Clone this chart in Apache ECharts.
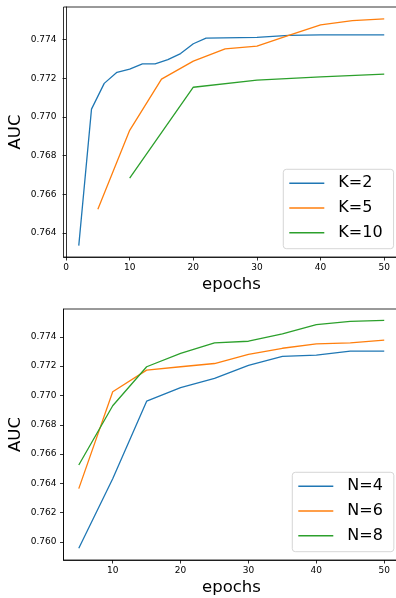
<!DOCTYPE html>
<html>
<head>
<meta charset="utf-8">
<script src="https://cdn.jsdelivr.net/npm/echarts@6/dist/echarts.min.js"></script>
<style>
  html, body { margin: 0; padding: 0; background: #fff; }
  #chart { width: 396px; height: 598px; }
</style>
</head>
<body>
<div id="chart"></div>
<script>
// top panel: K
const k2Epochs = [2, 4, 6, 8, 10, 12, 14, 16, 18, 20, 22, 30, 35, 40, 50]
const k2Auc = [0.76335, 0.77041, 0.77174, 0.77231, 0.77248, 0.77275, 0.77275, 0.77297, 0.77328, 0.77379, 0.77408, 0.77412, 0.77422, 0.77425, 0.77425]
const k5Epochs = [5, 10, 15, 20, 25, 30, 35, 40, 45, 50]
const k5Auc = [0.76523, 0.76931, 0.77196, 0.77289, 0.77352, 0.77367, 0.77422, 0.77477, 0.77499, 0.77508]
const k10Epochs = [10, 20, 30, 40, 50]
const k10Auc = [0.76684, 0.77154, 0.77191, 0.77208, 0.77222]

// bottom panel: N
const nEpochs = [5, 10, 15, 20, 25, 30, 35, 40, 45, 50]
const n4Auc = [0.75957, 0.76432, 0.76961, 0.77053, 0.77116, 0.77205, 0.77266, 0.77275, 0.77302, 0.77302]
const n6Auc = [0.76364, 0.77025, 0.77173, 0.77196, 0.77218, 0.77281, 0.77322, 0.77352, 0.77359, 0.77377]
const n8Auc = [0.76525, 0.76930, 0.77196, 0.77287, 0.77359, 0.77370, 0.77420, 0.77484, 0.77505, 0.77512]

// ticks
const topXTicks = [0, 10, 20, 30, 40, 50]
const topYTicks = [0.764, 0.766, 0.768, 0.770, 0.772, 0.774]
const botXTicks = [10, 20, 30, 40, 50]
const botYTicks = [0.760, 0.762, 0.764, 0.766, 0.768, 0.770, 0.772, 0.774]

const FONT = 'DejaVu Sans'
const colors = ['#1f77b4', '#ff7f0e', '#2ca02c']

const zip = (xs, ys) => xs.map((x, i) => [x, ys[i]])

function xAxisFor(gridIndex, min, max, ticks) {
    return {
        type: 'value',
        gridIndex,
        min, max,
        name: 'epochs',
        nameLocation: 'middle',
        nameGap: 19,
        nameMoveOverlap: false,
        nameTextStyle: { fontFamily: FONT, fontSize: 16.5, color: '#000' },
        axisLine: { show: true, lineStyle: { color: '#000', width: 0.8 } },
        axisTick: { show: true, length: 3.5, lineStyle: { color: '#000', width: 0.8 }, customValues: ticks },
        axisLabel: { fontFamily: FONT, fontSize: 9, color: '#000', margin: 6, customValues: ticks },
        splitLine: { show: false }
    }
}

function yAxisFor(gridIndex, min, max, ticks) {
    return {
        type: 'value',
        gridIndex,
        min, max,
        name: 'AUC',
        nameLocation: 'middle',
        nameGap: 39,
        nameMoveOverlap: false,
        nameTextStyle: { fontFamily: FONT, fontSize: 16.5, color: '#000' },
        axisLine: { show: true, lineStyle: { color: '#000', width: 0.8 } },
        axisTick: { show: true, length: 3.5, lineStyle: { color: '#000', width: 0.8 }, customValues: ticks },
        axisLabel: {
            fontFamily: FONT, fontSize: 9, color: '#000', margin: 7,
            customValues: ticks,
            formatter: v => v.toFixed(3)
        },
        splitLine: { show: false }
    }
}

function lineSeries(name, data, color, idx) {
    return {
        name, type: 'line', data,
        xAxisIndex: idx, yAxisIndex: idx,
        symbol: 'none',
        lineStyle: { color, width: 1.3 },
        itemStyle: { color },
        animation: false
    }
}

function legendFor(names, left, top) {
    return {
        data: names,
        orient: 'vertical',
        left, top,
        icon: 'rect',
        itemWidth: 35,
        itemHeight: 1.6,
        itemGap: 8.7,
        padding: [6, 11, 8, 6],
        backgroundColor: 'rgba(255,255,255,0.8)',
        borderColor: '#cccccc',
        borderWidth: 0.8,
        borderRadius: 3,
        textStyle: { fontFamily: FONT, fontSize: 16, color: '#000', lineHeight: 16, padding: [0, 0, 0, 9] }
    }
}

const chart = echarts.init(document.getElementById('chart'), null, { renderer: 'canvas' })

chart.setOption({
    backgroundColor: '#fff',
    animation: false,
    grid: [
        { left: 63.5, top: 7, width: 336, height: 250, outerBoundsMode: 'none', containLabel: false, show: true, borderColor: '#000', borderWidth: 0.8 },
        { left: 63.5, top: 309, width: 336, height: 251, outerBoundsMode: 'none', containLabel: false, show: true, borderColor: '#000', borderWidth: 0.8 }
    ],
    xAxis: [
        xAxisFor(0, -0.4, 52.4, topXTicks),
        xAxisFor(1, 2.75, 52.25, botXTicks)
    ],
    yAxis: [
        yAxisFor(0, 0.76276, 0.77569, topYTicks),
        yAxisFor(1, 0.75877, 0.77590, botYTicks)
    ],
    legend: [
        legendFor(['K=2', 'K=5', 'K=10'], 283.3, 169.3),
        legendFor(['N=4', 'N=6', 'N=8'], 292.3, 472.3)
    ],
    series: [
        lineSeries('K=2', zip(k2Epochs, k2Auc), colors[0], 0),
        lineSeries('K=5', zip(k5Epochs, k5Auc), colors[1], 0),
        lineSeries('K=10', zip(k10Epochs, k10Auc), colors[2], 0),
        lineSeries('N=4', zip(nEpochs, n4Auc), colors[0], 1),
        lineSeries('N=6', zip(nEpochs, n6Auc), colors[1], 1),
        lineSeries('N=8', zip(nEpochs, n8Auc), colors[2], 1)
    ]
})
</script>
</body>
</html>
